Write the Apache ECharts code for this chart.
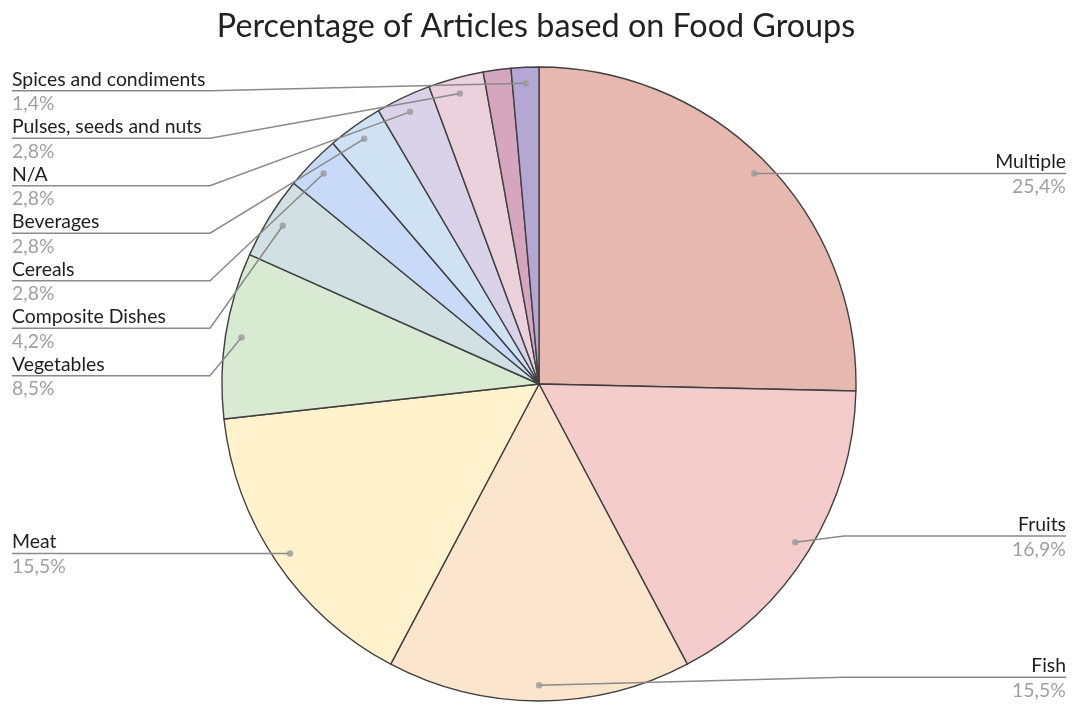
<!DOCTYPE html>
<html><head><meta charset="utf-8">
<script src="https://cdn.jsdelivr.net/npm/echarts@6/dist/echarts.min.js"></script>
<style>html,body{margin:0;padding:0;background:#fff}#c{width:1072px;height:704px}</style>
</head><body><div id="c"></div>
<script>
const titleText = 'Percentage of Articles based on Food Groups';
const categories = ['Multiple','Fruits','Fish','Meat','Vegetables','Composite Dishes','Cereals','Beverages','N/A','Pulses, seeds and nuts','Milk and dairy','Spices and condiments'];
const articleCounts = [18,12,11,11,6,3,2,2,2,2,1,1];
const sliceColors = ['#e6b8af','#f4cccc','#fce5cd','#fff2cc','#d9ead3','#d0e0e3','#c9daf8','#cfe2f3','#d9d2e9','#ead1dc','#d5a6bd','#b4a7d6'];
const hiddenLabels = ['Milk and dairy'];

const FONT = 'Lato';
const total = articleCounts.reduce((a, b) => a + b, 0);
const pct = v => (v / total * 100).toFixed(1).replace('.', ',') + '%';

const chart = echarts.init(document.getElementById('c'), null, {renderer: 'canvas'});
const W = 1072;
const box = {left: 0, top: 67, width: 1078, height: 634};
const R = 317, DOT = 0.95;

const pieData = categories.map((n, i) => ({name: n, value: articleCounts[i], itemStyle: {color: sliceColors[i]}}));
const labelData = categories.map((n, i) => {
  const d = {name: n, value: articleCounts[i]};
  if (hiddenLabels.includes(n)) { d.label = {show: false}; d.labelLine = {show: false}; }
  return d;
});
let cum = 0;
const dotData = [];
categories.forEach((n, i) => {
  const mid = cum + articleCounts[i] / 2;
  cum += articleCounts[i];
  if (!hiddenLabels.includes(n)) dotData.push([DOT, mid]);
});

chart.setOption({
  backgroundColor: '#fff',
  animation: false,
  title: {text: titleText, left: 'center', top: 6,
    textStyle: {fontFamily: FONT, fontSize: 32.3, fontWeight: 'normal', color: '#222'}},
  polar: {center: [539, 384], radius: R},
  angleAxis: {type: 'value', min: 0, max: total, startAngle: 90, clockwise: true, show: false},
  radiusAxis: {type: 'value', min: 0, max: 1, show: false},
  series: [
    {
      type: 'pie', ...box, center: ['50%', '50%'], radius: R,
      startAngle: 90, clockwise: true, silent: true,
      itemStyle: {borderColor: '#404040', borderWidth: 1.4},
      label: {show: false}, labelLine: {show: false},
      data: pieData, z: 1
    },
    {
      type: 'pie', ...box, center: ['50%', '50%'], radius: R * DOT,
      startAngle: 90, clockwise: true, silent: true,
      itemStyle: {color: 'rgba(0,0,0,0)', borderWidth: 0},
      label: {
        show: true, position: 'outside', alignTo: 'edge', edgeDistance: 12, distanceToLabelLine: 0,
        fontFamily: FONT, fontSize: 19.4, lineHeight: 22.75,
        formatter: p => '{n|' + p.name + '}\n{p|' + pct(p.value) + '}{s| }',
        rich: {
          n: {fontFamily: FONT, fontSize: 19.4, color: '#1e1e1e', lineHeight: 22.75},
          p: {fontFamily: FONT, fontSize: 19.4, color: '#a0a0a0', lineHeight: 18, verticalAlign: 'bottom'},
          s: {fontFamily: FONT, fontSize: 1, lineHeight: 22.75}
        }
      },
      labelLine: {show: true, length: 0, length2: 10, lineStyle: {color: '#8a8a8a', width: 1.5}},
      labelLayout: function (params) {
        const pts = params.labelLinePoints;
        if (!pts) return {};
        const r = params.labelRect;
        const isLeft = r.x < W / 2;
        const y = pts[2][1];
        const far = isLeft ? r.x : r.x + r.width;
        const near = isLeft ? far + 198 : far - 222;
        return {labelLinePoints: [pts[0], [near, y], [far, y]]};
      },
      data: labelData, z: 2
    },
    {
      type: 'scatter', coordinateSystem: 'polar', silent: true,
      symbol: 'circle', symbolSize: 6.5, itemStyle: {color: '#9a9a9a'},
      data: dotData, z: 5
    }
  ]
});
</script></body></html>
